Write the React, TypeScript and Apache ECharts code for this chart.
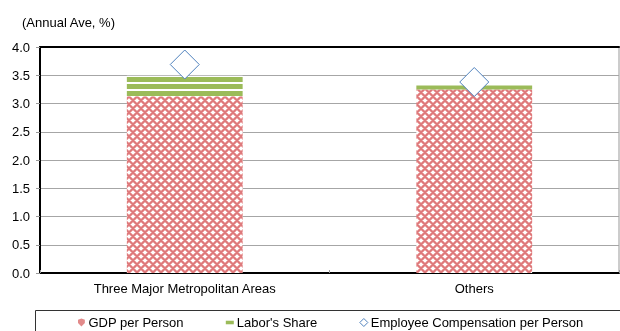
import React, { useEffect, useRef } from "react";
import * as echarts from "echarts";

const categories = ["Three Major Metropolitan Areas", "Others"];
const gdpPerPerson = [3.13, 3.25];
const laborShare = [0.36, 0.07];
const employeeComp = [3.69, 3.38];
const seriesNames = ["GDP per Person", "Labor's Share", "Employee Compensation per Person"];

function makeHatch(): HTMLCanvasElement {
  const c = document.createElement("canvas");
  c.width = 8;
  c.height = 8;
  const ctx = c.getContext("2d")!;
  ctx.fillStyle = "#ffffff";
  ctx.fillRect(0, 0, 8, 8);
  for (let x = 0; x < 8; x++) {
    for (let y = 0; y < 8; y++) {
      const d1 = (x + y) % 8;
      const d2 = (x - y + 8) % 8;
      if (d1 < 2 || d2 < 2) {
        ctx.fillStyle = "#de7a7c";
        ctx.fillRect(x, y, 1, 1);
      } else if (d1 === 2 || d2 === 2 || d1 === 7 || d2 === 7) {
        ctx.fillStyle = "#eeaaaa";
        ctx.fillRect(x, y, 1, 1);
      }
    }
  }
  return c;
}

function makeStripes(): HTMLCanvasElement {
  const c = document.createElement("canvas");
  c.width = 4;
  c.height = 7;
  const ctx = c.getContext("2d")!;
  ctx.fillStyle = "#ffffff";
  ctx.fillRect(0, 0, 4, 7);
  ctx.fillStyle = "#9bbb59";
  ctx.fillRect(0, 0, 4, 5);
  return c;
}

export default function App() {
  const ref = useRef<HTMLDivElement>(null);
  useEffect(() => {
    if (!ref.current) return;
    const chart = echarts.init(ref.current, null, { renderer: "svg" });
    const hatch = makeHatch();
    const stripes = makeStripes();
    const font = "'Liberation Sans', Arial, sans-serif";
    const hatchFill: any = { image: hatch, repeat: "repeat", imageWidth: 8, imageHeight: 8 };
    const stripeFill: any = { image: stripes, repeat: "repeat", imageWidth: 4, imageHeight: 7, x: 0, y: 0 };
    chart.setOption({
      animation: false,
      textStyle: { fontFamily: font },
      title: {
        text: "(Annual Ave, %)",
        left: 17,
        top: 11,
        textStyle: { fontSize: 13, fontWeight: "normal", color: "#000", fontFamily: font },
      },
      grid: {
        left: 40,
        right: 1,
        top: 47,
        bottom: 58,
        show: true,
        borderColor: "#999",
        borderWidth: 1,
      },
      graphic: [
        {
          type: "rect",
          shape: { x: 35.5, y: 310.5, width: 600, height: 40 },
          style: { fill: "none", stroke: "#333", lineWidth: 1 },
          silent: true,
        },
      ],
      legend: {
        selectedMode: false,
        left: 73,
        top: 311,
        itemWidth: 8,
        itemHeight: 8,
        itemGap: 42,
        textStyle: { fontSize: 13, color: "#000", fontFamily: font, padding: [0, 0, 0, -2] },
        data: [
          {
            name: seriesNames[0],
            icon: "path://M0,1 L3,0 L6,1 L6,4 L3,7 L0,4 Z",
            itemStyle: { color: "#e28a8a" },
          },
          {
            name: seriesNames[1],
            icon: "path://M0,0h9v4h-9z",
            itemStyle: { color: "#9bbb59" },
          },
          {
            name: seriesNames[2],
            icon: "path://M3,0 L6,3 L3,6 L0,3 Z",
            itemStyle: { color: "#fff", borderColor: "#4f81bd", borderWidth: 1 },
          },
        ],
      },
      xAxis: [
        {
          type: "category",
          data: categories,
          axisLine: { show: true, lineStyle: { color: "#000", width: 2 } },
          axisTick: { show: true, inside: true, length: 3, lineStyle: { color: "#999" } },
          axisLabel: { fontSize: 13, color: "#000", margin: 9, fontFamily: font },
        },
        {
          type: "category",
          data: categories,
          position: "top",
          axisLine: { show: true, lineStyle: { color: "#000", width: 2 } },
          axisTick: { show: false },
          axisLabel: { show: false },
        },
      ],
      yAxis: {
        type: "value",
        min: 0,
        max: 4,
        interval: 0.5,
        axisLine: { show: true, lineStyle: { color: "#000", width: 2 } },
        axisTick: { show: true, length: 4, lineStyle: { color: "#999" } },
        axisLabel: {
          fontSize: 13,
          color: "#000",
          margin: 10,
          fontFamily: font,
          formatter: (v: number) => v.toFixed(1),
        },
        splitLine: { show: true, lineStyle: { color: "#a6a6a6", width: 1 } },
      },
      series: [
        {
          name: seriesNames[0],
          type: "bar",
          stack: "total",
          barWidth: "40%",
          data: gdpPerPerson,
          itemStyle: { color: hatchFill },
        },
        {
          name: seriesNames[1],
          type: "bar",
          stack: "total",
          barWidth: "40%",
          data: laborShare.map((v, i) =>
            i === 0 ? { value: v, itemStyle: { color: stripeFill } } : { value: v, itemStyle: { color: "#9bbb59" } }
          ),
          itemStyle: { color: "#9bbb59" },
        },
        {
          name: seriesNames[2],
          type: "scatter",
          symbol: "diamond",
          symbolSize: [29, 29],
          data: employeeComp,
          itemStyle: { color: "#fff", borderColor: "#4f81bd", borderWidth: 1, opacity: 1 },
          z: 5,
        },
      ],
    });
    return () => chart.dispose();
  }, []);
  return (
    <div
      ref={ref}
      style={{ position: "fixed", left: 0, top: 0, width: 620, height: 331 }}
    />
  );
}
